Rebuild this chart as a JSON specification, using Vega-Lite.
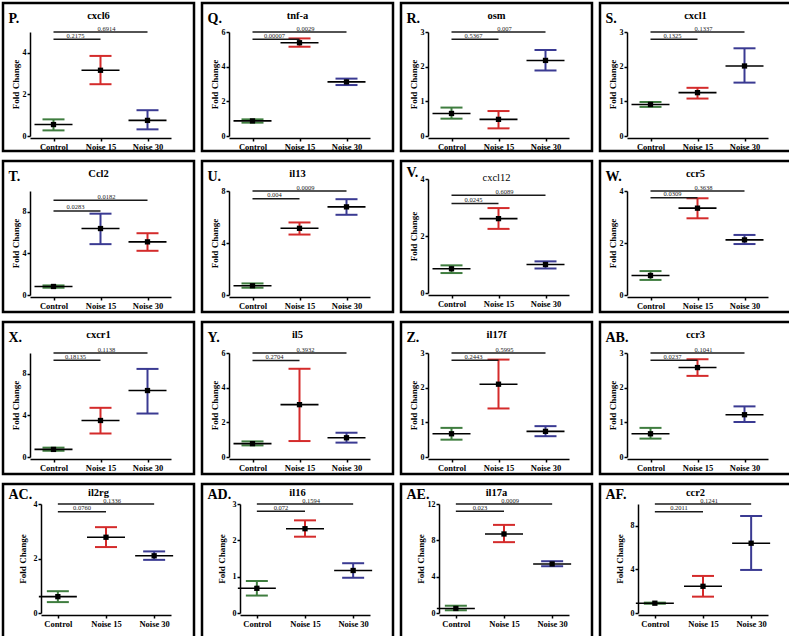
{
"$schema":"https://vega.github.io/schema/vega-lite/v6.json",
"padding":{"left":1,"top":1,"right":0,"bottom":0},
"background":"white",
"columns":4,
"align":"each",
"spacing":{"column":4,"row":6},
"data":{"values":[
{"panel":"P","group":"Control","mean":0.55,"low":0.27,"high":0.8,"cg":"Control"},
{"panel":"P","group":"Noise 15","mean":3.16,"low":2.49,"high":3.85,"cg":"Noise 15","by":4.65,"p":"0.2175"},
{"panel":"P","group":"Noise 30","mean":0.75,"low":0.32,"high":1.24,"cg":"Noise 30","by":5.0,"p":"0.6914"},
{"panel":"Q","group":"Control","mean":0.87,"low":0.77,"high":0.96,"cg":"Control"},
{"panel":"Q","group":"Noise 15","mean":5.38,"low":5.15,"high":5.63,"cg":"Noise 15","by":5.58,"p":"0.00007"},
{"panel":"Q","group":"Noise 30","mean":3.12,"low":2.94,"high":3.31,"cg":"Noise 30","by":6.0,"p":"0.0029"},
{"panel":"R","group":"Control","mean":0.65,"low":0.5,"high":0.82,"cg":"Control"},
{"panel":"R","group":"Noise 15","mean":0.48,"low":0.22,"high":0.72,"cg":"Noise 15","by":2.79,"p":"0.5367"},
{"panel":"R","group":"Noise 30","mean":2.18,"low":1.89,"high":2.48,"cg":"Noise 30","by":3.0,"p":"0.007"},
{"panel":"S","group":"Control","mean":0.91,"low":0.84,"high":0.98,"cg":"Control"},
{"panel":"S","group":"Noise 15","mean":1.25,"low":1.08,"high":1.39,"cg":"Noise 15","by":2.79,"p":"0.1325"},
{"panel":"S","group":"Noise 30","mean":2.02,"low":1.54,"high":2.53,"cg":"Noise 30","by":3.0,"p":"0.1337"},
{"panel":"T","group":"Control","mean":0.82,"low":0.7,"high":0.92,"cg":"Control"},
{"panel":"T","group":"Noise 15","mean":6.39,"low":4.89,"high":7.82,"cg":"Noise 30","by":8.08,"p":"0.0283"},
{"panel":"T","group":"Noise 30","mean":5.11,"low":4.25,"high":5.94,"cg":"Noise 15","by":9.11,"p":"0.0182"},
{"panel":"U","group":"Control","mean":0.71,"low":0.56,"high":0.89,"cg":"Control"},
{"panel":"U","group":"Noise 15","mean":5.13,"low":4.65,"high":5.58,"cg":"Noise 15","by":7.41,"p":"0.004"},
{"panel":"U","group":"Noise 30","mean":6.78,"low":6.17,"high":7.37,"cg":"Noise 30","by":8.0,"p":"0.0009"},
{"panel":"V","group":"Control","mean":0.85,"low":0.7,"high":0.97,"cg":"Control"},
{"panel":"V","group":"Noise 15","mean":2.61,"low":2.25,"high":2.98,"cg":"Noise 15","by":3.14,"p":"0.0245"},
{"panel":"V","group":"Noise 30","mean":1.0,"low":0.86,"high":1.11,"cg":"Noise 30","by":3.43,"p":"0.6089"},
{"panel":"W","group":"Control","mean":0.75,"low":0.58,"high":0.92,"cg":"Control"},
{"panel":"W","group":"Noise 15","mean":3.34,"low":2.95,"high":3.72,"cg":"Noise 15","by":3.74,"p":"0.0309"},
{"panel":"W","group":"Noise 30","mean":2.12,"low":1.96,"high":2.31,"cg":"Noise 30","by":4.0,"p":"0.3638"},
{"panel":"X","group":"Control","mean":0.73,"low":0.6,"high":0.9,"cg":"Control"},
{"panel":"X","group":"Noise 15","mean":3.51,"low":2.26,"high":4.73,"cg":"Noise 15","by":9.3,"p":"0.18135"},
{"panel":"X","group":"Noise 30","mean":6.39,"low":4.18,"high":8.47,"cg":"Noise 30","by":10.0,"p":"0.1138"},
{"panel":"Y","group":"Control","mean":0.77,"low":0.67,"high":0.9,"cg":"Control"},
{"panel":"Y","group":"Noise 15","mean":3.02,"low":0.92,"high":5.09,"cg":"Noise 15","by":5.57,"p":"0.2704"},
{"panel":"Y","group":"Noise 30","mean":1.11,"low":0.83,"high":1.4,"cg":"Noise 30","by":6.0,"p":"0.3932"},
{"panel":"Z","group":"Control","mean":0.67,"low":0.5,"high":0.84,"cg":"Control"},
{"panel":"Z","group":"Noise 15","mean":2.1,"low":1.4,"high":2.81,"cg":"Noise 15","by":2.79,"p":"0.2443"},
{"panel":"Z","group":"Noise 30","mean":0.74,"low":0.6,"high":0.89,"cg":"Noise 30","by":3.0,"p":"0.5995"},
{"panel":"AB","group":"Control","mean":0.67,"low":0.53,"high":0.84,"cg":"Control"},
{"panel":"AB","group":"Noise 15","mean":2.58,"low":2.34,"high":2.82,"cg":"Noise 15","by":2.79,"p":"0.0237"},
{"panel":"AB","group":"Noise 30","mean":1.22,"low":1.01,"high":1.46,"cg":"Noise 30","by":3.0,"p":"0.1041"},
{"panel":"AC","group":"Control","mean":0.6,"low":0.4,"high":0.8,"cg":"Control"},
{"panel":"AC","group":"Noise 15","mean":2.78,"low":2.42,"high":3.15,"cg":"Noise 15","by":3.72,"p":"0.0760"},
{"panel":"AC","group":"Noise 30","mean":2.1,"low":1.95,"high":2.26,"cg":"Noise 30","by":4.0,"p":"0.1336"},
{"panel":"AD","group":"Control","mean":0.68,"low":0.48,"high":0.88,"cg":"Control"},
{"panel":"AD","group":"Noise 15","mean":2.32,"low":2.1,"high":2.55,"cg":"Noise 15","by":2.8,"p":"0.072"},
{"panel":"AD","group":"Noise 30","mean":1.17,"low":0.97,"high":1.37,"cg":"Noise 30","by":3.0,"p":"0.1594"},
{"panel":"AE","group":"Control","mean":0.5,"low":0.3,"high":0.8,"cg":"Control"},
{"panel":"AE","group":"Noise 15","mean":8.7,"low":7.8,"high":9.7,"cg":"Noise 15","by":11.2,"p":"0.023"},
{"panel":"AE","group":"Noise 30","mean":5.4,"low":5.15,"high":5.7,"cg":"Noise 30","by":12.0,"p":"0.0009"},
{"panel":"AF","group":"Control","mean":0.9,"low":0.85,"high":0.95,"cg":"Control"},
{"panel":"AF","group":"Noise 15","mean":2.45,"low":1.5,"high":3.4,"cg":"Noise 15","by":9.3,"p":"0.2011"},
{"panel":"AF","group":"Noise 30","mean":6.4,"low":3.95,"high":8.9,"cg":"Noise 30","by":10.0,"p":"0.1241"}
]},
"concat":[
{"height":148,"width":191,"title":"cxcl6","transform":[{"filter":"datum.panel=='P'"}],"resolve":{"axis":{"x":"independent"}},"layer":[{"layer":[
{"mark":{"type":"errorbar","ticks":true,"size":22,"thickness":2},"encoding":{"x":{"field":"group","type":"nominal","scale":{"type":"point","domain":["Control","Noise 15","Noise 30"],"range":[27,168],"padding":0.5},"axis":{"title":null,"offset":-13}},"y":{"field":"low","type":"quantitative","scale":{"domain":[0,5],"range":[133,29],"nice":false,"zero":false},"axis":{"values":[0,1,2,3,4,5],"title":"Fold Change","labelOverlap":false}},"y2":{"field":"high"},"color":{"field":"cg","type":"nominal"}}},
{"mark":"tick","encoding":{"x":{"field":"group","type":"nominal"},"y":{"field":"mean","type":"quantitative"}}},
{"mark":"rule","encoding":{"x":{"field":"group","type":"nominal"},"x2":{"datum":"Control"},"y":{"field":"by","type":"quantitative"}}},
{"mark":{"type":"text","dx":{"expr":"datum.group=='Noise 15'?-25:-41"}},"encoding":{"x":{"field":"group","type":"nominal"},"y":{"field":"by","type":"quantitative"},"text":{"field":"p"}}}]},
{"mark":"point","encoding":{"x":{"field":"group","type":"nominal","axis":{"orient":"top","title":"P."}},"y":{"field":"mean","type":"quantitative","axis":{"labelOverlap":false}}}}]},
{"height":148,"width":191,"title":"tnf-a","transform":[{"filter":"datum.panel=='Q'"}],"resolve":{"axis":{"x":"independent"}},"layer":[{"layer":[
{"mark":{"type":"errorbar","ticks":true,"size":22,"thickness":2},"encoding":{"x":{"field":"group","type":"nominal","scale":{"type":"point","domain":["Control","Noise 15","Noise 30"],"range":[27,168],"padding":0.5},"axis":{"title":null,"offset":-13}},"y":{"field":"low","type":"quantitative","scale":{"domain":[0,6],"range":[133,29],"nice":false,"zero":false},"axis":{"values":[0,2,4,6],"title":"Fold Change","labelOverlap":false}},"y2":{"field":"high"},"color":{"field":"cg","type":"nominal"}}},
{"mark":"tick","encoding":{"x":{"field":"group","type":"nominal"},"y":{"field":"mean","type":"quantitative"}}},
{"mark":"rule","encoding":{"x":{"field":"group","type":"nominal"},"x2":{"datum":"Control"},"y":{"field":"by","type":"quantitative"}}},
{"mark":{"type":"text","dx":{"expr":"datum.group=='Noise 15'?-25:-41"}},"encoding":{"x":{"field":"group","type":"nominal"},"y":{"field":"by","type":"quantitative"},"text":{"field":"p"}}}]},
{"mark":"point","encoding":{"x":{"field":"group","type":"nominal","axis":{"orient":"top","title":"Q."}},"y":{"field":"mean","type":"quantitative","axis":{"labelOverlap":false}}}}]},
{"height":148,"width":191,"title":"osm","transform":[{"filter":"datum.panel=='R'"}],"resolve":{"axis":{"x":"independent"}},"layer":[{"layer":[
{"mark":{"type":"errorbar","ticks":true,"size":22,"thickness":2},"encoding":{"x":{"field":"group","type":"nominal","scale":{"type":"point","domain":["Control","Noise 15","Noise 30"],"range":[27,168],"padding":0.5},"axis":{"title":null,"offset":-13}},"y":{"field":"low","type":"quantitative","scale":{"domain":[0,3],"range":[133,29],"nice":false,"zero":false},"axis":{"values":[0,1,2,3],"title":"Fold Change","labelOverlap":false}},"y2":{"field":"high"},"color":{"field":"cg","type":"nominal"}}},
{"mark":"tick","encoding":{"x":{"field":"group","type":"nominal"},"y":{"field":"mean","type":"quantitative"}}},
{"mark":"rule","encoding":{"x":{"field":"group","type":"nominal"},"x2":{"datum":"Control"},"y":{"field":"by","type":"quantitative"}}},
{"mark":{"type":"text","dx":{"expr":"datum.group=='Noise 15'?-25:-41"}},"encoding":{"x":{"field":"group","type":"nominal"},"y":{"field":"by","type":"quantitative"},"text":{"field":"p"}}}]},
{"mark":"point","encoding":{"x":{"field":"group","type":"nominal","axis":{"orient":"top","title":"R."}},"y":{"field":"mean","type":"quantitative","axis":{"labelOverlap":false}}}}]},
{"height":148,"width":191,"title":"cxcl1","transform":[{"filter":"datum.panel=='S'"}],"resolve":{"axis":{"x":"independent"}},"layer":[{"layer":[
{"mark":{"type":"errorbar","ticks":true,"size":22,"thickness":2},"encoding":{"x":{"field":"group","type":"nominal","scale":{"type":"point","domain":["Control","Noise 15","Noise 30"],"range":[27,168],"padding":0.5},"axis":{"title":null,"offset":-13}},"y":{"field":"low","type":"quantitative","scale":{"domain":[0,3],"range":[133,29],"nice":false,"zero":false},"axis":{"values":[0,1,2,3],"title":"Fold Change","labelOverlap":false}},"y2":{"field":"high"},"color":{"field":"cg","type":"nominal"}}},
{"mark":"tick","encoding":{"x":{"field":"group","type":"nominal"},"y":{"field":"mean","type":"quantitative"}}},
{"mark":"rule","encoding":{"x":{"field":"group","type":"nominal"},"x2":{"datum":"Control"},"y":{"field":"by","type":"quantitative"}}},
{"mark":{"type":"text","dx":{"expr":"datum.group=='Noise 15'?-25:-41"}},"encoding":{"x":{"field":"group","type":"nominal"},"y":{"field":"by","type":"quantitative"},"text":{"field":"p"}}}]},
{"mark":"point","encoding":{"x":{"field":"group","type":"nominal","axis":{"orient":"top","title":"S."}},"y":{"field":"mean","type":"quantitative","axis":{"labelOverlap":false}}}}]},
{"height":151,"width":191,"title":"Ccl2","transform":[{"filter":"datum.panel=='T'"}],"resolve":{"axis":{"x":"independent"}},"layer":[{"layer":[
{"mark":{"type":"errorbar","ticks":true,"size":22,"thickness":2},"encoding":{"x":{"field":"group","type":"nominal","scale":{"type":"point","domain":["Control","Noise 15","Noise 30"],"range":[27,168],"padding":0.5},"axis":{"title":null,"offset":-15}},"y":{"field":"low","type":"quantitative","scale":{"domain":[0,10],"range":[134,30],"nice":false,"zero":false},"axis":{"values":[0,2,4,6,8,10],"title":"Fold Change","labelOverlap":false}},"y2":{"field":"high"},"color":{"field":"cg","type":"nominal"}}},
{"mark":"tick","encoding":{"x":{"field":"group","type":"nominal"},"y":{"field":"mean","type":"quantitative"}}},
{"mark":"rule","encoding":{"x":{"field":"group","type":"nominal"},"x2":{"datum":"Control"},"y":{"field":"by","type":"quantitative"}}},
{"mark":{"type":"text","dx":{"expr":"datum.group=='Noise 15'?-25:-41"}},"encoding":{"x":{"field":"group","type":"nominal"},"y":{"field":"by","type":"quantitative"},"text":{"field":"p"}}}]},
{"mark":"point","encoding":{"x":{"field":"group","type":"nominal","axis":{"orient":"top","title":"T."}},"y":{"field":"mean","type":"quantitative","axis":{"labelOverlap":false}}}}]},
{"height":151,"width":191,"title":"il13","transform":[{"filter":"datum.panel=='U'"}],"resolve":{"axis":{"x":"independent"}},"layer":[{"layer":[
{"mark":{"type":"errorbar","ticks":true,"size":22,"thickness":2},"encoding":{"x":{"field":"group","type":"nominal","scale":{"type":"point","domain":["Control","Noise 15","Noise 30"],"range":[27,168],"padding":0.5},"axis":{"title":null,"offset":-15}},"y":{"field":"low","type":"quantitative","scale":{"domain":[0,8],"range":[134,30],"nice":false,"zero":false},"axis":{"values":[0,2,4,6,8],"title":"Fold Change","labelOverlap":false}},"y2":{"field":"high"},"color":{"field":"cg","type":"nominal"}}},
{"mark":"tick","encoding":{"x":{"field":"group","type":"nominal"},"y":{"field":"mean","type":"quantitative"}}},
{"mark":"rule","encoding":{"x":{"field":"group","type":"nominal"},"x2":{"datum":"Control"},"y":{"field":"by","type":"quantitative"}}},
{"mark":{"type":"text","dx":{"expr":"datum.group=='Noise 15'?-25:-41"}},"encoding":{"x":{"field":"group","type":"nominal"},"y":{"field":"by","type":"quantitative"},"text":{"field":"p"}}}]},
{"mark":"point","encoding":{"x":{"field":"group","type":"nominal","axis":{"orient":"top","title":"U."}},"y":{"field":"mean","type":"quantitative","axis":{"labelOverlap":false}}}}]},
{"height":151,"width":191,"title":{"text":"cxcl12","fontWeight":"normal","offset":-22},"transform":[{"filter":"datum.panel=='V'"}],"resolve":{"axis":{"x":"independent"}},"layer":[{"layer":[
{"mark":{"type":"errorbar","ticks":true,"size":22,"thickness":2},"encoding":{"x":{"field":"group","type":"nominal","scale":{"type":"point","domain":["Control","Noise 15","Noise 30"],"range":[27,168],"padding":0.5},"axis":{"title":null,"offset":-17}},"y":{"field":"low","type":"quantitative","scale":{"domain":[0,4],"range":[132,18],"nice":false,"zero":false},"axis":{"values":[0,1,2,3,4],"title":"Fold Change","labelOverlap":false}},"y2":{"field":"high"},"color":{"field":"cg","type":"nominal"}}},
{"mark":"tick","encoding":{"x":{"field":"group","type":"nominal"},"y":{"field":"mean","type":"quantitative"}}},
{"mark":"rule","encoding":{"x":{"field":"group","type":"nominal"},"x2":{"datum":"Control"},"y":{"field":"by","type":"quantitative"}}},
{"mark":{"type":"text","dx":{"expr":"datum.group=='Noise 15'?-25:-41"}},"encoding":{"x":{"field":"group","type":"nominal"},"y":{"field":"by","type":"quantitative"},"text":{"field":"p"}}}]},
{"mark":"point","encoding":{"x":{"field":"group","type":"nominal","axis":{"orient":"top","title":"V.","titleY":15}},"y":{"field":"mean","type":"quantitative","axis":{"labelOverlap":false}}}}]},
{"height":151,"width":191,"title":"ccr5","transform":[{"filter":"datum.panel=='W'"}],"resolve":{"axis":{"x":"independent"}},"layer":[{"layer":[
{"mark":{"type":"errorbar","ticks":true,"size":22,"thickness":2},"encoding":{"x":{"field":"group","type":"nominal","scale":{"type":"point","domain":["Control","Noise 15","Noise 30"],"range":[27,168],"padding":0.5},"axis":{"title":null,"offset":-15}},"y":{"field":"low","type":"quantitative","scale":{"domain":[0,4],"range":[134,30],"nice":false,"zero":false},"axis":{"values":[0,1,2,3,4],"title":"Fold Change","labelOverlap":false}},"y2":{"field":"high"},"color":{"field":"cg","type":"nominal"}}},
{"mark":"tick","encoding":{"x":{"field":"group","type":"nominal"},"y":{"field":"mean","type":"quantitative"}}},
{"mark":"rule","encoding":{"x":{"field":"group","type":"nominal"},"x2":{"datum":"Control"},"y":{"field":"by","type":"quantitative"}}},
{"mark":{"type":"text","dx":{"expr":"datum.group=='Noise 15'?-25:-41"}},"encoding":{"x":{"field":"group","type":"nominal"},"y":{"field":"by","type":"quantitative"},"text":{"field":"p"}}}]},
{"mark":"point","encoding":{"x":{"field":"group","type":"nominal","axis":{"orient":"top","title":"W."}},"y":{"field":"mean","type":"quantitative","axis":{"labelOverlap":false}}}}]},
{"height":152,"width":191,"title":"cxcr1","transform":[{"filter":"datum.panel=='X'"}],"resolve":{"axis":{"x":"independent"}},"layer":[{"layer":[
{"mark":{"type":"errorbar","ticks":true,"size":22,"thickness":2},"encoding":{"x":{"field":"group","type":"nominal","scale":{"type":"point","domain":["Control","Noise 15","Noise 30"],"range":[27,168],"padding":0.5},"axis":{"title":null,"offset":-15}},"y":{"field":"low","type":"quantitative","scale":{"domain":[0,10],"range":[135,31],"nice":false,"zero":false},"axis":{"values":[0,2,4,6,8,10],"title":"Fold Change","labelOverlap":false}},"y2":{"field":"high"},"color":{"field":"cg","type":"nominal"}}},
{"mark":"tick","encoding":{"x":{"field":"group","type":"nominal"},"y":{"field":"mean","type":"quantitative"}}},
{"mark":"rule","encoding":{"x":{"field":"group","type":"nominal"},"x2":{"datum":"Control"},"y":{"field":"by","type":"quantitative"}}},
{"mark":{"type":"text","dx":{"expr":"datum.group=='Noise 15'?-25:-41"}},"encoding":{"x":{"field":"group","type":"nominal"},"y":{"field":"by","type":"quantitative"},"text":{"field":"p"}}}]},
{"mark":"point","encoding":{"x":{"field":"group","type":"nominal","axis":{"orient":"top","title":"X."}},"y":{"field":"mean","type":"quantitative","axis":{"labelOverlap":false}}}}]},
{"height":152,"width":191,"title":"il5","transform":[{"filter":"datum.panel=='Y'"}],"resolve":{"axis":{"x":"independent"}},"layer":[{"layer":[
{"mark":{"type":"errorbar","ticks":true,"size":22,"thickness":2},"encoding":{"x":{"field":"group","type":"nominal","scale":{"type":"point","domain":["Control","Noise 15","Noise 30"],"range":[27,168],"padding":0.5},"axis":{"title":null,"offset":-15}},"y":{"field":"low","type":"quantitative","scale":{"domain":[0,6],"range":[135,31],"nice":false,"zero":false},"axis":{"values":[0,2,4,6],"title":"Fold Change","labelOverlap":false}},"y2":{"field":"high"},"color":{"field":"cg","type":"nominal"}}},
{"mark":"tick","encoding":{"x":{"field":"group","type":"nominal"},"y":{"field":"mean","type":"quantitative"}}},
{"mark":"rule","encoding":{"x":{"field":"group","type":"nominal"},"x2":{"datum":"Control"},"y":{"field":"by","type":"quantitative"}}},
{"mark":{"type":"text","dx":{"expr":"datum.group=='Noise 15'?-25:-41"}},"encoding":{"x":{"field":"group","type":"nominal"},"y":{"field":"by","type":"quantitative"},"text":{"field":"p"}}}]},
{"mark":"point","encoding":{"x":{"field":"group","type":"nominal","axis":{"orient":"top","title":"Y."}},"y":{"field":"mean","type":"quantitative","axis":{"labelOverlap":false}}}}]},
{"height":152,"width":191,"title":"il17f","transform":[{"filter":"datum.panel=='Z'"}],"resolve":{"axis":{"x":"independent"}},"layer":[{"layer":[
{"mark":{"type":"errorbar","ticks":true,"size":22,"thickness":2},"encoding":{"x":{"field":"group","type":"nominal","scale":{"type":"point","domain":["Control","Noise 15","Noise 30"],"range":[27,168],"padding":0.5},"axis":{"title":null,"offset":-15}},"y":{"field":"low","type":"quantitative","scale":{"domain":[0,3],"range":[135,31],"nice":false,"zero":false},"axis":{"values":[0,1,2,3],"title":"Fold Change","labelOverlap":false}},"y2":{"field":"high"},"color":{"field":"cg","type":"nominal"}}},
{"mark":"tick","encoding":{"x":{"field":"group","type":"nominal"},"y":{"field":"mean","type":"quantitative"}}},
{"mark":"rule","encoding":{"x":{"field":"group","type":"nominal"},"x2":{"datum":"Control"},"y":{"field":"by","type":"quantitative"}}},
{"mark":{"type":"text","dx":{"expr":"datum.group=='Noise 15'?-25:-41"}},"encoding":{"x":{"field":"group","type":"nominal"},"y":{"field":"by","type":"quantitative"},"text":{"field":"p"}}}]},
{"mark":"point","encoding":{"x":{"field":"group","type":"nominal","axis":{"orient":"top","title":"Z."}},"y":{"field":"mean","type":"quantitative","axis":{"labelOverlap":false}}}}]},
{"height":152,"width":191,"title":"ccr3","transform":[{"filter":"datum.panel=='AB'"}],"resolve":{"axis":{"x":"independent"}},"layer":[{"layer":[
{"mark":{"type":"errorbar","ticks":true,"size":22,"thickness":2},"encoding":{"x":{"field":"group","type":"nominal","scale":{"type":"point","domain":["Control","Noise 15","Noise 30"],"range":[27,168],"padding":0.5},"axis":{"title":null,"offset":-15}},"y":{"field":"low","type":"quantitative","scale":{"domain":[0,3],"range":[135,31],"nice":false,"zero":false},"axis":{"values":[0,1,2,3],"title":"Fold Change","labelOverlap":false}},"y2":{"field":"high"},"color":{"field":"cg","type":"nominal"}}},
{"mark":"tick","encoding":{"x":{"field":"group","type":"nominal"},"y":{"field":"mean","type":"quantitative"}}},
{"mark":"rule","encoding":{"x":{"field":"group","type":"nominal"},"x2":{"datum":"Control"},"y":{"field":"by","type":"quantitative"}}},
{"mark":{"type":"text","dx":{"expr":"datum.group=='Noise 15'?-25:-41"}},"encoding":{"x":{"field":"group","type":"nominal"},"y":{"field":"by","type":"quantitative"},"text":{"field":"p"}}}]},
{"mark":"point","encoding":{"x":{"field":"group","type":"nominal","axis":{"orient":"top","title":"AB."}},"y":{"field":"mean","type":"quantitative","axis":{"labelOverlap":false}}}}]},
{"height":155,"width":191,"title":{"text":"il2rg","offset":-14},"transform":[{"filter":"datum.panel=='AC'"}],"resolve":{"axis":{"x":"independent"}},"layer":[{"layer":[
{"mark":{"type":"errorbar","ticks":true,"size":22,"thickness":2},"encoding":{"x":{"field":"group","type":"nominal","scale":{"type":"point","domain":["Control","Noise 15","Noise 30"],"range":[38,168],"padding":0.35},"axis":{"title":null,"offset":-24}},"y":{"field":"low","type":"quantitative","scale":{"domain":[0,4],"range":[129,20],"nice":false,"zero":false},"axis":{"values":[0,1,2,3,4],"title":"Fold Change","offset":-38,"titleX":-14,"labelOverlap":false}},"y2":{"field":"high"},"color":{"field":"cg","type":"nominal"}}},
{"mark":"tick","encoding":{"x":{"field":"group","type":"nominal"},"y":{"field":"mean","type":"quantitative"}}},
{"mark":"rule","encoding":{"x":{"field":"group","type":"nominal"},"x2":{"datum":"Control"},"y":{"field":"by","type":"quantitative"}}},
{"mark":{"type":"text","dx":{"expr":"datum.group=='Noise 15'?-24:-42"}},"encoding":{"x":{"field":"group","type":"nominal"},"y":{"field":"by","type":"quantitative"},"text":{"field":"p"}}}]},
{"mark":"point","encoding":{"x":{"field":"group","type":"nominal","axis":{"orient":"top","title":"AC.","titleY":14}},"y":{"field":"mean","type":"quantitative","axis":{"labelOverlap":false}}}}]},
{"height":155,"width":191,"title":{"text":"il16","offset":-14},"transform":[{"filter":"datum.panel=='AD'"}],"resolve":{"axis":{"x":"independent"}},"layer":[{"layer":[
{"mark":{"type":"errorbar","ticks":true,"size":22,"thickness":2},"encoding":{"x":{"field":"group","type":"nominal","scale":{"type":"point","domain":["Control","Noise 15","Noise 30"],"range":[38,168],"padding":0.35},"axis":{"title":null,"offset":-24}},"y":{"field":"low","type":"quantitative","scale":{"domain":[0,3],"range":[129,20],"nice":false,"zero":false},"axis":{"values":[0,1,2,3],"title":"Fold Change","offset":-38,"titleX":-14,"labelOverlap":false}},"y2":{"field":"high"},"color":{"field":"cg","type":"nominal"}}},
{"mark":"tick","encoding":{"x":{"field":"group","type":"nominal"},"y":{"field":"mean","type":"quantitative"}}},
{"mark":"rule","encoding":{"x":{"field":"group","type":"nominal"},"x2":{"datum":"Control"},"y":{"field":"by","type":"quantitative"}}},
{"mark":{"type":"text","dx":{"expr":"datum.group=='Noise 15'?-24:-42"}},"encoding":{"x":{"field":"group","type":"nominal"},"y":{"field":"by","type":"quantitative"},"text":{"field":"p"}}}]},
{"mark":"point","encoding":{"x":{"field":"group","type":"nominal","axis":{"orient":"top","title":"AD.","titleY":14}},"y":{"field":"mean","type":"quantitative","axis":{"labelOverlap":false}}}}]},
{"height":155,"width":191,"title":{"text":"il17a","offset":-14},"transform":[{"filter":"datum.panel=='AE'"}],"resolve":{"axis":{"x":"independent"}},"layer":[{"layer":[
{"mark":{"type":"errorbar","ticks":true,"size":22,"thickness":2},"encoding":{"x":{"field":"group","type":"nominal","scale":{"type":"point","domain":["Control","Noise 15","Noise 30"],"range":[38,168],"padding":0.35},"axis":{"title":null,"offset":-24}},"y":{"field":"low","type":"quantitative","scale":{"domain":[0,12],"range":[129,20],"nice":false,"zero":false},"axis":{"values":[0,2,4,6,8,10,12],"title":"Fold Change","offset":-38,"titleX":-14,"labelOverlap":false}},"y2":{"field":"high"},"color":{"field":"cg","type":"nominal"}}},
{"mark":"tick","encoding":{"x":{"field":"group","type":"nominal"},"y":{"field":"mean","type":"quantitative"}}},
{"mark":"rule","encoding":{"x":{"field":"group","type":"nominal"},"x2":{"datum":"Control"},"y":{"field":"by","type":"quantitative"}}},
{"mark":{"type":"text","dx":{"expr":"datum.group=='Noise 15'?-24:-42"}},"encoding":{"x":{"field":"group","type":"nominal"},"y":{"field":"by","type":"quantitative"},"text":{"field":"p"}}}]},
{"mark":"point","encoding":{"x":{"field":"group","type":"nominal","axis":{"orient":"top","title":"AE.","titleY":14}},"y":{"field":"mean","type":"quantitative","axis":{"labelOverlap":false}}}}]},
{"height":155,"width":191,"title":{"text":"ccr2","offset":-14},"transform":[{"filter":"datum.panel=='AF'"}],"resolve":{"axis":{"x":"independent"}},"layer":[{"layer":[
{"mark":{"type":"errorbar","ticks":true,"size":22,"thickness":2},"encoding":{"x":{"field":"group","type":"nominal","scale":{"type":"point","domain":["Control","Noise 15","Noise 30"],"range":[38,168],"padding":0.35},"axis":{"title":null,"offset":-24}},"y":{"field":"low","type":"quantitative","scale":{"domain":[0,10],"range":[129,20],"nice":false,"zero":false},"axis":{"values":[0,2,4,6,8,10],"title":"Fold Change","offset":-38,"titleX":-14,"labelOverlap":false}},"y2":{"field":"high"},"color":{"field":"cg","type":"nominal"}}},
{"mark":"tick","encoding":{"x":{"field":"group","type":"nominal"},"y":{"field":"mean","type":"quantitative"}}},
{"mark":"rule","encoding":{"x":{"field":"group","type":"nominal"},"x2":{"datum":"Control"},"y":{"field":"by","type":"quantitative"}}},
{"mark":{"type":"text","dx":{"expr":"datum.group=='Noise 15'?-24:-42"}},"encoding":{"x":{"field":"group","type":"nominal"},"y":{"field":"by","type":"quantitative"},"text":{"field":"p"}}}]},
{"mark":"point","encoding":{"x":{"field":"group","type":"nominal","axis":{"orient":"top","title":"AF.","titleY":14}},"y":{"field":"mean","type":"quantitative","axis":{"labelOverlap":false}}}}]}
],
"config":{
"view":{"stroke":"black","strokeWidth":2.5,"fill":"white"},
"range":{"category":["#3f7d3f","#d42b2b","#3a3a92"]},
"legend":{"disable":true},
"title":{"font":"Liberation Serif","fontSize":10.5,"fontWeight":"bold","color":"black","anchor":"middle","frame":"group","offset":-18,"baseline":"alphabetic"},
"axis":{"grid":false,"domainColor":"black","domainWidth":1.5,"tickColor":"black","tickWidth":1.5,"tickSize":3,"labelColor":"black","labelFont":"Liberation Serif","labelFontWeight":"bold","labelFontSize":8.5,"titleFont":"Liberation Serif","titleFontWeight":"bold","titleFontSize":9,"titleColor":"black","labelPadding":1},
"axisX":{"labelAngle":0},
"axisBottom":{"labelPadding":1},
"axisLeft":{"offset":-27,"labelFontSize":8,"titleX":-10,"labelOverlap":false},
"axisTop":{"domain":false,"ticks":false,"labels":false,"offset":0,"titleX":5,"titleY":19,"titleFontSize":14,"titleAlign":"left","titleBaseline":"alphabetic","titleAngle":0},
"tick":{"size":38,"thickness":1.6,"color":"black","opacity":1},
"point":{"shape":"square","filled":true,"color":"black","size":28,"opacity":1},
"rule":{"color":"#1a1a1a","strokeWidth":1.5},
"text":{"font":"Liberation Serif","fontSize":6.5,"color":"#222","baseline":"alphabetic","dy":-1.5}
}
}
